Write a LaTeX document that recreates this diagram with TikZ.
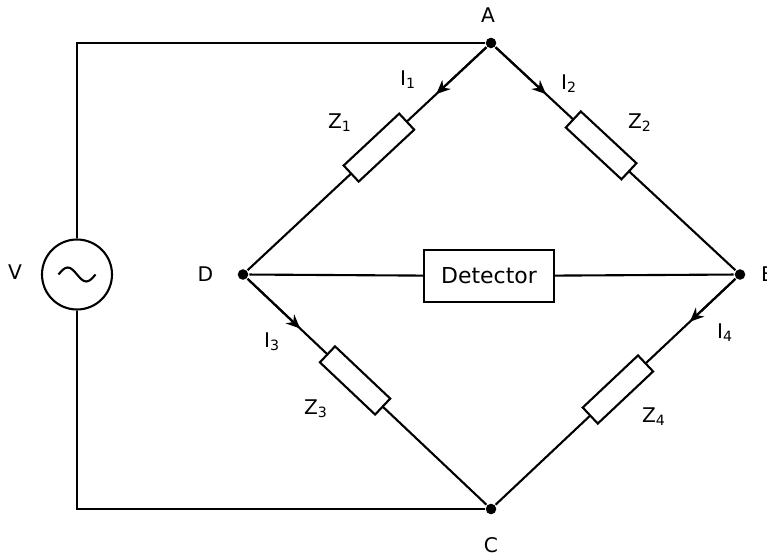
\documentclass[tikz,border=0pt]{standalone}
\usepackage{fontspec}
\setmainfont{DejaVu Sans}
\usetikzlibrary{arrows.meta}

\begin{document}
\begin{tikzpicture}[line width=1.2pt,every node/.style={font=\fontsize{11.5}{13}\selectfont},
  dot/.style={circle,fill=black,inner sep=0pt,minimum size=6pt},
  imp/.style={draw,fill=white,sloped,minimum width=1.52cm,minimum height=0.44cm,inner sep=0pt},
  cur/.style={-{Stealth[length=8pt,width=7pt]}}]
\useasboundingbox (0,0) rectangle (15.34,11.14);

\node[dot] (A) at (9.82,10.28) {};
\node[dot] (B) at (14.8,5.65) {};
\node[dot] (C) at (9.82,0.96) {};
\node[dot] (D) at (4.86,5.65) {};
\node[draw,circle,minimum size=1.4cm] (S) at (1.54,5.65) {};
\node[draw,fill=white,minimum width=2.6cm,minimum height=1.05cm,font=\fontsize{12.5}{14}\selectfont] (det) at (9.78,5.62) {Detector};

% source and wires
\draw ([xshift=-0.37cm]S.center) sin ++(0.185,0.14) cos ++(0.185,-0.14) sin ++(0.185,-0.14) cos ++(0.185,0.14);
\draw (A) -- (A -| S) -- (S);
\draw (S) -- (S |- C) -- (C);
\draw (D) -- (det) -- (B);

% bridge arms
\draw (A) -- node[imp,pos=0.45] (Z1) {} coordinate[pos=0.21] (i1) (D);
\draw (A) -- node[imp,pos=0.44] (Z2) {} coordinate[pos=0.21] (i2) (B);
\draw (D) -- node[imp,pos=0.45] (Z3) {} coordinate[pos=0.22] (i3) (C);
\draw (C) -- node[imp,pos=0.51] (Z4) {} coordinate[pos=0.81] (i4) (B);
\draw[cur] (A) -- (i1);
\draw[cur] (A) -- (i2);
\draw[cur] (D) -- (i3);
\draw[cur] (B) -- (i4);

% labels
\node (lA) at (9.76,10.83) {A};
\node (lB) [anchor=west,inner sep=0pt] at (15.2,5.65) {B};
\node (lC) at (9.82,0.24) {C};
\node (lD) at (4.11,5.66) {D};
\node (lV) at (0.3,5.7) {V};
\node (lI1) at (8.16,9.54) {I\textsubscript{1}};
\node (lI2) at (11.38,9.46) {I\textsubscript{2}};
\node (lI3) at (5.44,4.3) {I\textsubscript{3}};
\node (lI4) at (14.5,4.48) {I\textsubscript{4}};
\node (lZ1) at (6.8,8.68) {Z\textsubscript{1}};
\node (lZ2) at (12.8,8.68) {Z\textsubscript{2}};
\node (lZ3) at (6.32,2.96) {Z\textsubscript{3}};
\node (lZ4) at (13.08,2.8) {Z\textsubscript{4}};
\end{tikzpicture}
\end{document}
